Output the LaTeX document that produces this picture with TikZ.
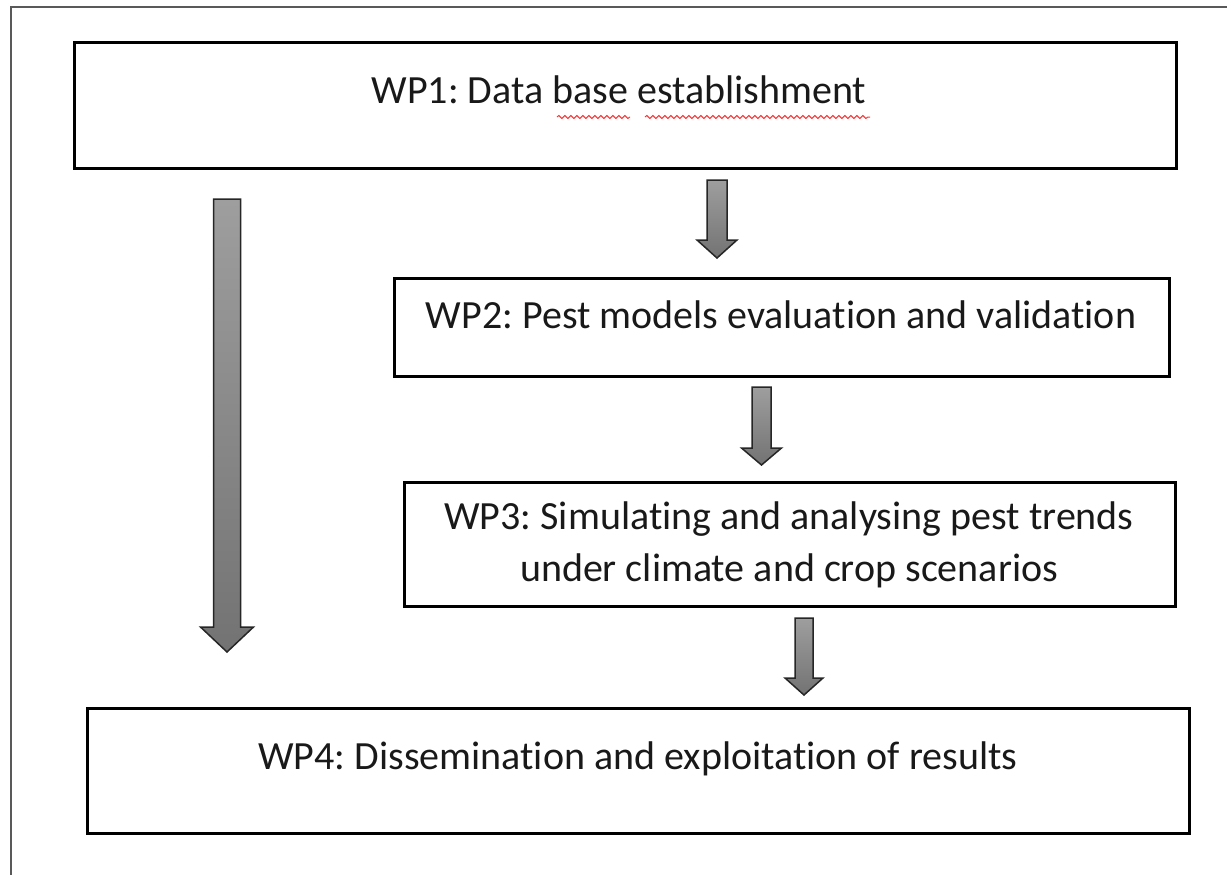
\documentclass[tikz,border=0pt]{standalone}
\usepackage{fontspec}
\setmainfont{Carlito}[Ligatures=NoCommon]
\usetikzlibrary{positioning,decorations.pathmorphing}

\tikzset{
  wpbox/.style={draw=black, line width=3pt, rectangle, inner sep=0pt},
  wptext/.style={font=\fontsize{40}{52}\selectfont\frenchspacing, align=center, inner sep=0pt, text=black!90, anchor=base},
  blockarr/.style={draw=black!85, line width=1.5pt, top color=black!38, bottom color=black!55},
  squiggle/.style={draw=red!80, line width=1pt, decorate,
    decoration={snake, amplitude=1.5pt, segment length=6pt}}
}

\begin{document}
\begin{tikzpicture}[x=1pt,y=-1pt]
\useasboundingbox (0,0) rectangle (1227,875);
% outer frame
\draw[black!65, line width=2pt] (11,900) -- (11,7) -- (1250,7);
% work packages
\node[wpbox, minimum width=1102pt, minimum height=125pt] (wp1) at (625,105.5) {};
\node[wpbox, minimum width=775pt, minimum height=98pt] (wp2) at (781.5,327) {};
\node[wpbox, minimum width=771pt, minimum height=124pt] (wp3) at (789.5,544) {};
\node[wpbox, minimum width=1102pt, minimum height=125pt] (wp4) at (638,770.5) {};
\node[wptext] (wp1txt) at (619,103) {WP1: Data base establishment};
\node[wptext] (wp2txt) at (781,328) {WP2: Pest models evaluation and validation};
\node[wptext] (wp3txt) at (789,581) {WP3: Simulating and analysing pest trends\\under climate and crop scenarios};
\node[wptext] (wp4txt) at (638,769) {WP4: Dissemination and exploitation of results};
% spelling marks
\draw[squiggle] (557,117) -- (630,117);
\draw[squiggle] (645,117) -- (870,117);
% block arrows: x, half shaft, top, head base, half head, tip
\foreach \x/\w/\t/\b/\h/\e in {227/13.5/199/627/26.5/652, 717/10/180/240/20/258,
    761.5/9.5/387/448/20/465, 804/9/618/678/19/695}
  \draw[blockarr] (\x-\w,\t) -- (\x+\w,\t) -- (\x+\w,\b) -- (\x+\h,\b) -- (\x,\e)
    -- (\x-\h,\b) -- (\x-\w,\b) -- cycle;
\end{tikzpicture}
\end{document}
